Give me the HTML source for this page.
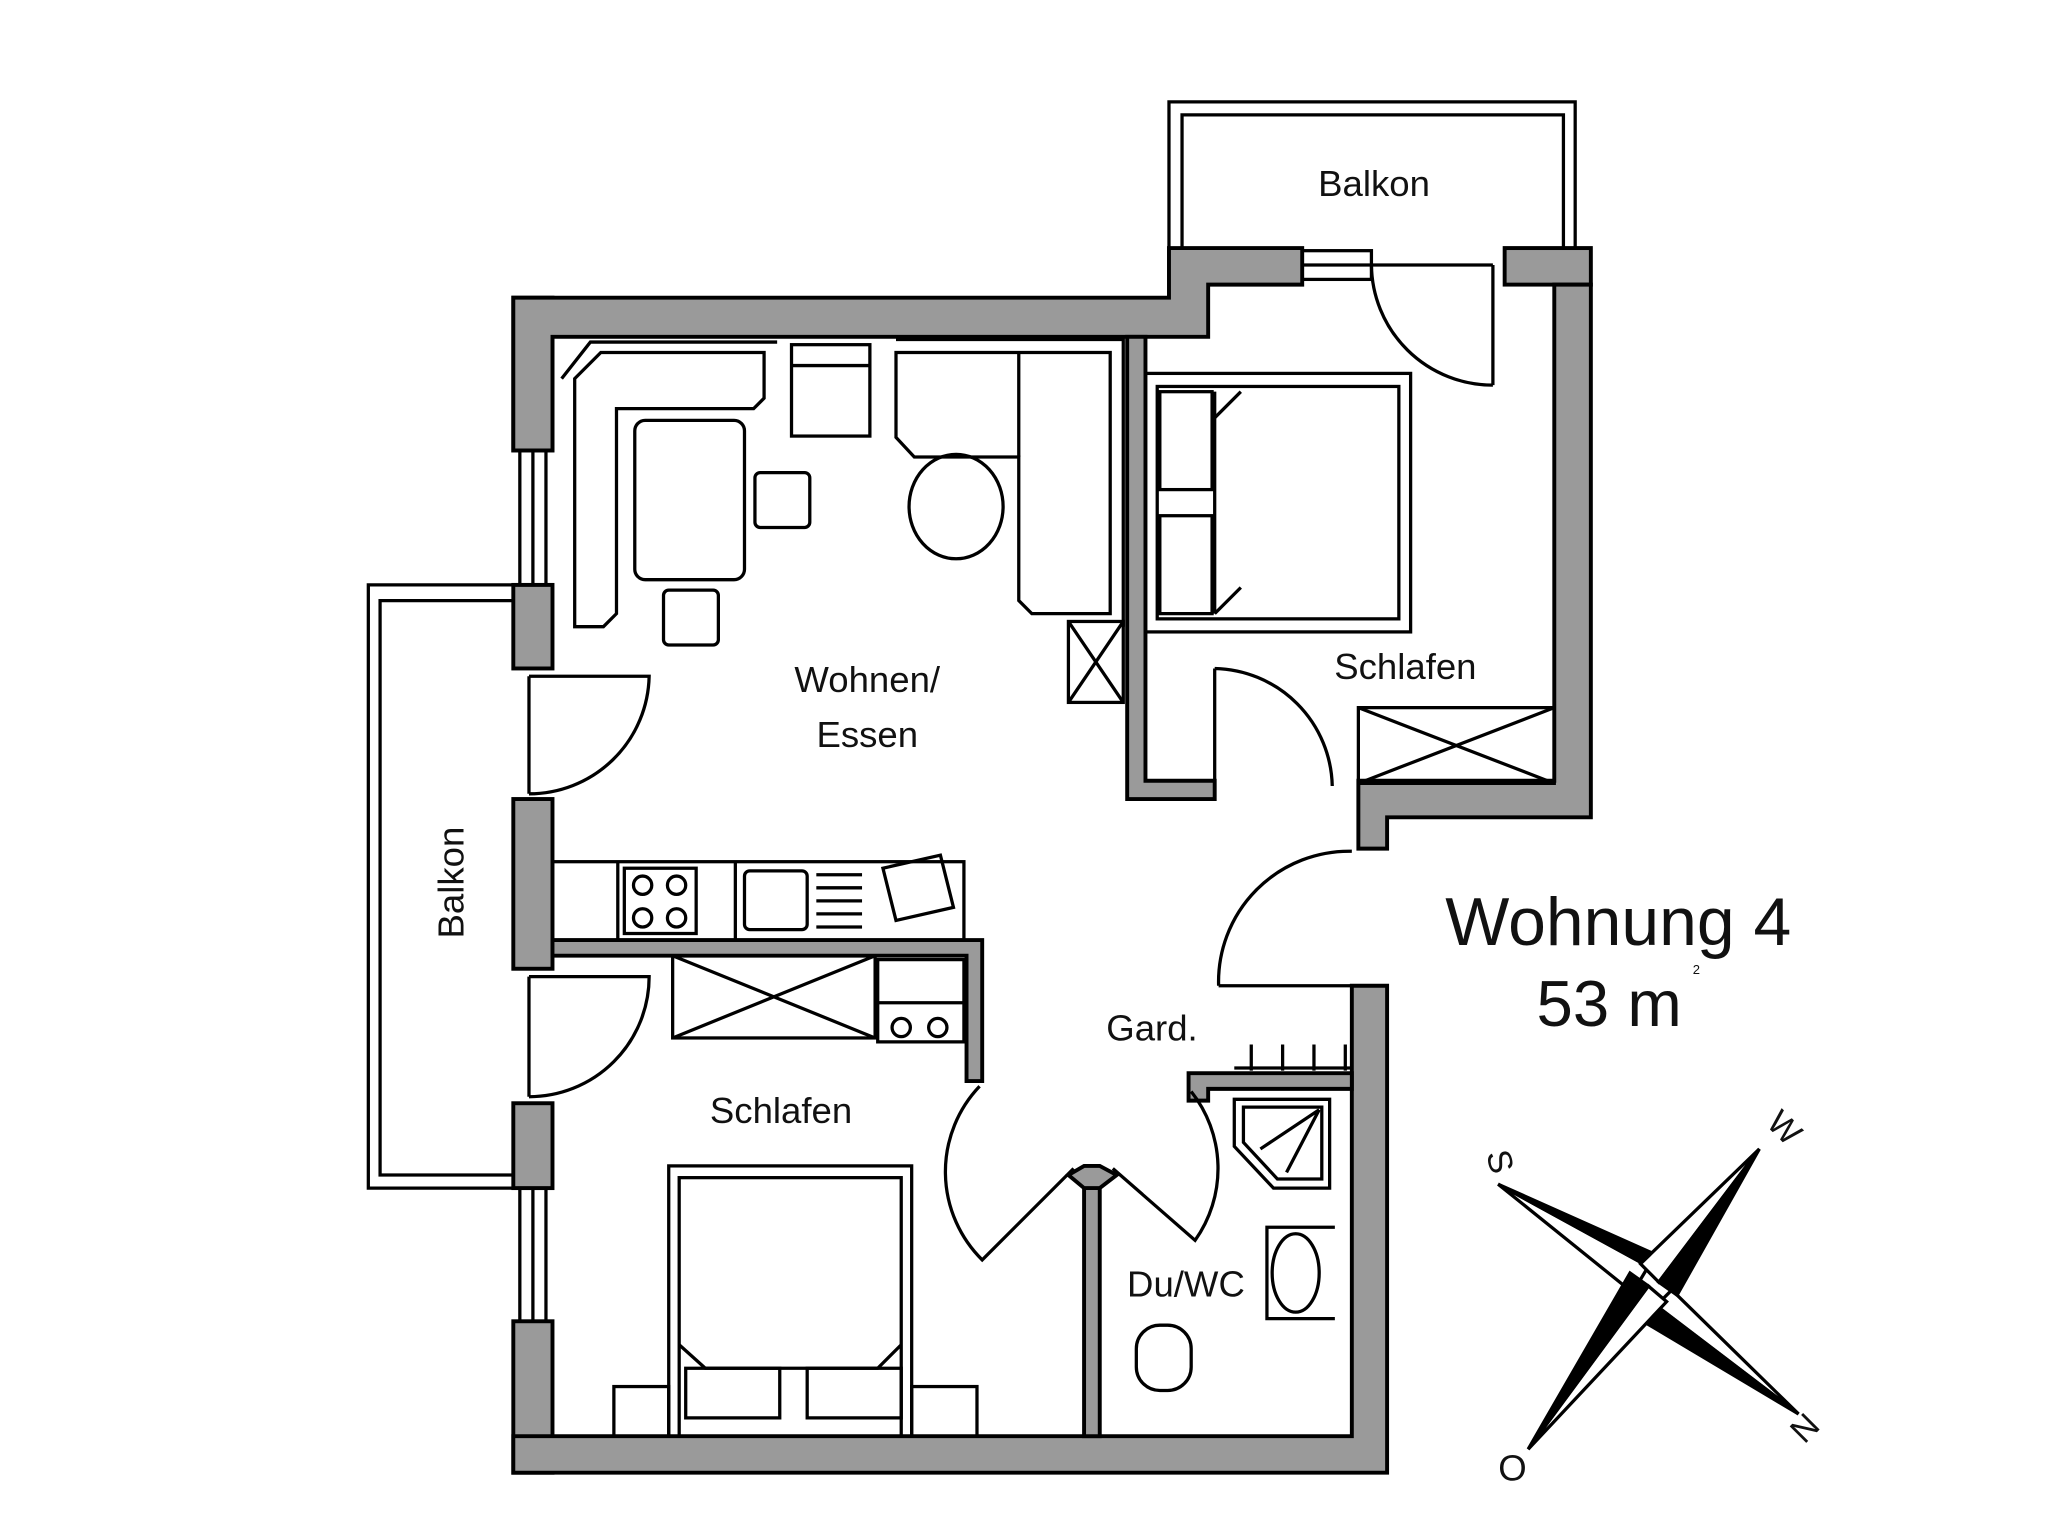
<!DOCTYPE html>
<html><head><meta charset="utf-8"><style>html,body{margin:0;padding:0;background:#fff}svg{display:block}</style></head>
<body>
<svg width="2048" height="1538" viewBox="0 0 1568 1178" preserveAspectRatio="none" xmlns="http://www.w3.org/2000/svg" font-family="Liberation Sans, sans-serif">
<g fill="#9a9a9a" stroke="#000" stroke-width="3">
<rect x="393" y="228" width="30" height="117"/>
<rect x="393" y="448" width="30" height="64"/>
<rect x="393" y="612" width="30" height="130"/>
<rect x="393" y="845" width="30" height="65"/>
<rect x="393" y="1012" width="30" height="116"/>
<path d="M393 228 H895 V190 H997 V218 H925 V258 H423 V345 H393 Z"/>
<rect x="1152" y="190" width="66" height="28"/>
<path d="M1190 218 H1218 V626 H1062 V650 H1040 V598 H1190 Z"/>
<path d="M1035 755 H1062 V1128 H393 V1100 H1035 Z"/>
<path d="M863 258 H877 V598 H930 V612 H863 Z"/>
<path d="M423 720 H752 V828 H740 V732 H423 Z"/>
<path d="M830 900 H842 V1100 H830 Z"/>
<path d="M910 822 H1035 V834 H925 V843 H910 Z"/>
<path d="M818 900 L830 893 L842 893 L855 900 L842 910 H830 Z"/>
</g>
<g fill="none" stroke="#000" stroke-width="2.5">
<rect x="398" y="345" width="20" height="103"/><line x1="408" y1="345" x2="408" y2="448"/>
<rect x="398" y="910" width="20" height="102"/><line x1="408" y1="910" x2="408" y2="1012"/>
<path d="M393 448 H282 V910 H393"/><path d="M393 460 H291 V900 H393"/>
<path d="M895 190 V78 H1206 V190"/><path d="M905 190 V88 H1197 V190"/>
<rect x="997" y="192" width="53" height="22"/><line x1="997" y1="203" x2="1050" y2="203"/>
<line x1="405" y1="518" x2="405" y2="608"/><path d="M405 518 H497 A92 92 0 0 1 405 608"/>
<line x1="405" y1="748" x2="405" y2="840"/><path d="M405 748 H497 A92 92 0 0 1 405 840"/>
<line x1="1143" y1="203" x2="1143" y2="295"/><path d="M1050 203 H1143 M1050 203 A93 93 0 0 0 1143 295"/>
<path d="M930 512 V612 M930 512 A92 92 0 0 1 1020 602"/>
<path d="M933 755 H1035 M933 755 A100 100 0 0 1 1035 652"/>
<path d="M750 832 A95 95 0 0 0 752 965 L822 895"/>
<path d="M912 836 A95 95 0 0 1 915 950 L852 895"/>
<path d="M440 290 L460 270 H585 V305 L577 313 H472 V470 L462 480 H440 Z M430 290 L452 262 H595"/>
<rect x="486" y="322" width="84" height="122" rx="8"/>
<rect x="606" y="264" width="60" height="70"/><line x1="606" y1="280" x2="666" y2="280"/>
<rect x="578" y="362" width="42" height="42" rx="4"/>
<rect x="508" y="452" width="42" height="42" rx="4"/>
<ellipse cx="732" cy="388" rx="36" ry="40"/>
<path d="M686 270 H850 V470 H790 L780 460 V350 H700 L686 335 Z M686 260 H860 V480"/>
<line x1="780" y1="270" x2="780" y2="350"/>
<rect x="818" y="476" width="42" height="62"/><path d="M818 476 L860 538 M860 476 L818 538"/>
<rect x="423" y="660" width="315" height="60"/>
<line x1="473" y1="660" x2="473" y2="720"/><line x1="563" y1="660" x2="563" y2="720"/>
<rect x="478" y="665" width="55" height="50"/>
<circle cx="492" cy="678" r="7"/><circle cx="518" cy="678" r="7"/><circle cx="492" cy="703" r="7"/><circle cx="518" cy="703" r="7"/>
<rect x="570" y="667" width="48" height="45" rx="4"/>
<path d="M625 670 H660 M625 680 H660 M625 690 H660 M625 700 H660 M625 710 H660"/>
<path d="M676 665 L720 655 L730 695 L686 705 Z"/>
<rect x="515" y="732" width="155" height="63"/><path d="M515 732 L670 795 M670 732 L515 795"/>
<rect x="672" y="735" width="66" height="63"/><line x1="672" y1="768" x2="738" y2="768"/>
<circle cx="690" cy="787" r="7"/><circle cx="718" cy="787" r="7"/>
<rect x="877" y="286" width="203" height="198"/><rect x="886" y="296" width="185" height="178"/>
<path d="M930 320 L950 300 M930 470 L950 450"/>
<line x1="930" y1="300" x2="930" y2="470"/>
<rect x="888" y="300" width="40" height="75"/><rect x="888" y="395" width="40" height="75"/>
<rect x="1040" y="542" width="150" height="58"/><path d="M1040 542 L1190 600 M1190 542 L1040 600"/>
<rect x="512" y="893" width="186" height="207"/><rect x="520" y="902" width="170" height="198"/>
<path d="M520 1030 L540 1048 H672 L690 1030"/>
<rect x="525" y="1048" width="72" height="38"/><rect x="618" y="1048" width="72" height="38"/>
<rect x="470" y="1062" width="42" height="38"/><rect x="698" y="1062" width="50" height="38"/>
<path d="M945 842 H1018 V910 H975 L945 878 Z"/><path d="M952 848 H1012 V903 H978 L952 875 Z"/>
<path d="M1010 850 L965 880 M1010 850 L985 898"/>
<path d="M958 800 V820 M982 800 V820 M1006 800 V820 M1030 800 V820 M945 818 H1035"/>
<path d="M1022 940 H970 V1010 H1022"/><ellipse cx="992" cy="975" rx="18" ry="30"/>
<rect x="870" y="1015" width="42" height="50" rx="18"/>
<path d="M1147 907 L1262 970 L1250 990 Z" fill="#fff"/>
<path d="M1147 907 L1262 970 L1270 962 Z" fill="#000"/>
<path d="M1377 1083 L1268 1000 L1280 988 Z" fill="#fff"/>
<path d="M1377 1083 L1268 1000 L1258 1012 Z" fill="#000"/>
<path d="M1347 880 L1270 982 L1256 968 Z" fill="#fff"/>
<path d="M1347 880 L1270 982 L1284 992 Z" fill="#000"/>
<path d="M1170 1110 L1262 985 L1276 997 Z" fill="#fff"/>
<path d="M1170 1110 L1262 985 L1248 975 Z" fill="#000"/>
</g>
<g fill="#111" font-size="28">
<text x="664" y="530" text-anchor="middle">Wohnen/</text>
<text x="664" y="572" text-anchor="middle">Essen</text>
<text x="1076" y="520" text-anchor="middle">Schlafen</text>
<text x="598" y="860" text-anchor="middle">Schlafen</text>
<text x="882" y="797" text-anchor="middle">Gard.</text>
<text x="908" y="993" text-anchor="middle">Du/WC</text>
<text x="1052" y="150" text-anchor="middle">Balkon</text>
<text transform="translate(355 676) rotate(-90)" text-anchor="middle">Balkon</text>
<text x="1239" y="724" text-anchor="middle" font-size="52">Wohnung 4</text>
<text x="1232" y="786" text-anchor="middle" font-size="50">53 m</text>
<text x="1296" y="746" font-size="10">2</text>
<text transform="translate(1140 892) rotate(75)" text-anchor="middle" font-size="26">S</text>
<text transform="translate(1360 870) rotate(45)" text-anchor="middle" font-size="26">W</text>
<text transform="translate(1388 1100) rotate(-45)" text-anchor="middle" font-size="26">N</text>
<text x="1158" y="1134" text-anchor="middle" font-size="28">O</text>
</g>
</svg>
</body></html>
